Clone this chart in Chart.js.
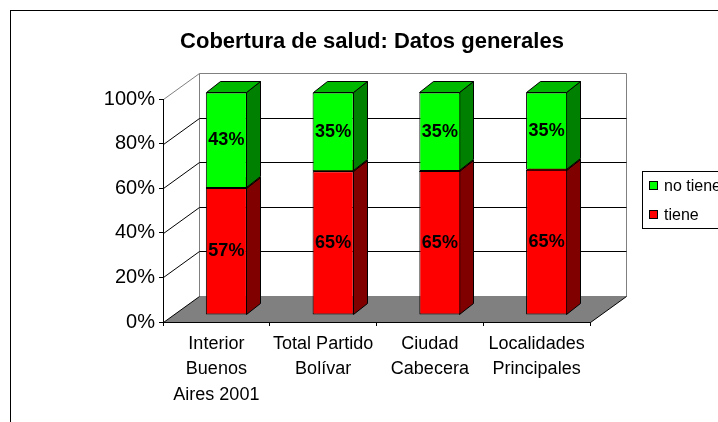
<!DOCTYPE html>
<html>
<head>
<meta charset="utf-8">
<script src="https://cdn.jsdelivr.net/npm/chart.js@4/dist/chart.umd.min.js"></script>
<style>
  html, body { margin: 0; padding: 0; background: #fff; }
  #wrap { width: 718px; height: 422px; }
</style>
</head>
<body>
<div id="wrap"><canvas id="chart" width="718" height="422"></canvas></div>
<script>
// data
const categories = [
  ['Interior', 'Buenos', 'Aires 2001'],
  ['Total Partido', 'Bolívar'],
  ['Ciudad', 'Cabecera'],
  ['Localidades', 'Principales']
];
const tiene = [57.1, 64.6, 64.7, 65.3];
const noTiene = [42.9, 35.4, 35.3, 34.7];
const seriesNames = ['tiene', 'no tiene'];
const yTicks = [0, 20, 40, 60, 80, 100];

const FONT = "'Liberation Sans', Arial, sans-serif";
const colors = {
  tiene: { front: '#FF0000', side: '#800000', top: '#C00000' },
  noTiene: { front: '#00FF00', side: '#008000', top: '#00B800' }
};

// 3d look: depth of the wall box and of the bars
const WALL = { dx: 36, dy: -26 };
const SHIFT = { dx: 10, dy: -7 };
const BAR = { dx: 14, dy: -11 };

function poly(ctx, pts, fill, stroke) {
  ctx.beginPath();
  pts.forEach((p, i) => i ? ctx.lineTo(p[0], p[1]) : ctx.moveTo(p[0], p[1]));
  ctx.closePath();
  if (fill) { ctx.fillStyle = fill; ctx.fill(); }
  if (stroke) { ctx.strokeStyle = stroke; ctx.lineWidth = 1; ctx.stroke(); }
}

function line(ctx, x1, y1, x2, y2, color) {
  ctx.beginPath();
  ctx.moveTo(x1, y1);
  ctx.lineTo(x2, y2);
  ctx.strokeStyle = color;
  ctx.lineWidth = 1;
  ctx.stroke();
}

const threeD = {
  id: 'threeD',
  afterLayout(chart) {
    // the axis box is kept narrow so the title centres like the original;
    // widen it back so the tick labels are not clipped
    chart.scales.y.left = 0;
  },
  beforeDraw(chart) {
    const ctx = chart.ctx;
    const a = chart.chartArea;
    const y = chart.scales.y;
    const L = Math.round(a.left) + 0.5, R = Math.round(a.right) + 0.5;
    const T = Math.round(a.top) + 0.5, B = Math.round(a.bottom) + 0.5;
    const dx = WALL.dx, dy = WALL.dy;
    ctx.save();
    ctx.fillStyle = '#fff';
    ctx.fillRect(0, 0, chart.width, chart.height);
    ctx.strokeStyle = '#000';
    ctx.lineWidth = 1;
    ctx.strokeRect(10.5, 10.5, 800, 800);
    // back wall and left wall
    poly(ctx, [[L + dx, T + dy], [R + dx, T + dy], [R + dx, B + dy], [L + dx, B + dy]], '#fff', '#808080');
    line(ctx, L, T, L + dx, T + dy, '#808080');
    // gridlines
    yTicks.forEach(v => {
      if (v === 0 || v === 100) return;
      const py = Math.round(y.getPixelForValue(v)) + 0.5;
      line(ctx, L + dx, py + dy, R + dx, py + dy, '#000');
      line(ctx, L, py, L + dx, py + dy, '#000');
    });
    // floor
    poly(ctx, [[L, B], [R, B], [R + dx, B + dy], [L + dx, B + dy]], '#808080', null);
    line(ctx, L, B, L + dx, B + dy, '#000');
    line(ctx, R, B, R + dx, B + dy, '#000');
    ctx.restore();
  },
  beforeDatasetsDraw(chart) {
    const ctx = chart.ctx;
    ctx.save();
    // side and top faces, bottom series first
    const faces = [colors.tiene, colors.noTiene];
    chart.data.datasets.forEach((ds, i) => {
      const meta = chart.getDatasetMeta(i);
      meta.data.forEach(el => {
        const p = el.getProps(['x', 'y', 'base', 'width'], true);
        const l = Math.round(p.x - p.width / 2 + SHIFT.dx) + 0.5;
        const r = Math.round(p.x + p.width / 2 + SHIFT.dx) - 0.5;
        const top = Math.round(p.y + SHIFT.dy) + 0.5;
        const bot = Math.round(p.base + SHIFT.dy) - 0.5;
        poly(ctx, [[r, top], [r + BAR.dx, top + BAR.dy], [r + BAR.dx, bot + BAR.dy], [r, bot]], faces[i].side, '#000');
        poly(ctx, [[l, top], [l + BAR.dx, top + BAR.dy], [r + BAR.dx, top + BAR.dy], [r, top]], faces[i].top, '#000');
      });
    });
    ctx.restore();
    // front faces are drawn by chart.js, moved into the box
    ctx.save();
    ctx.translate(SHIFT.dx, SHIFT.dy);
  },
  afterDatasetsDraw(chart) {
    const ctx = chart.ctx;
    ctx.restore();
    ctx.save();
    ctx.font = 'bold 18px ' + FONT;
    ctx.fillStyle = '#000';
    ctx.textAlign = 'center';
    ctx.textBaseline = 'middle';
    chart.data.datasets.forEach((ds, i) => {
      chart.getDatasetMeta(i).data.forEach((el, j) => {
        const p = el.getProps(['x', 'y', 'base'], true);
        ctx.fillText(Math.round(ds.data[j]) + '%', p.x + SHIFT.dx, (p.y + p.base) / 2 + SHIFT.dy);
      });
    });
    // legend box
    ctx.strokeStyle = '#000';
    ctx.lineWidth = 1;
    ctx.fillStyle = '#fff';
    ctx.fillRect(642.5, 171.5, 120, 57);
    ctx.strokeRect(642.5, 171.5, 120, 57);
    ctx.font = '16px ' + FONT;
    ctx.textAlign = 'left';
    const items = chart.data.datasets.slice().reverse();
    items.forEach((ds, k) => {
      const cy = 186 + k * 29;
      ctx.fillStyle = ds.backgroundColor;
      ctx.fillRect(649.5, cy - 4.5, 8, 8);
      ctx.strokeRect(649.5, cy - 4.5, 8, 8);
      ctx.fillStyle = '#000';
      ctx.fillText(ds.label, 664, cy + 1);
    });
    ctx.restore();
  }
};

new Chart(document.getElementById('chart'), {
  type: 'bar',
  data: {
    labels: categories,
    datasets: [
      { label: seriesNames[0], data: tiene, backgroundColor: colors.tiene.front },
      { label: seriesNames[1], data: noTiene, backgroundColor: colors.noTiene.front }
    ]
  },
  options: {
    responsive: false,
    animation: false,
    events: [],
    layout: { padding: { left: 154, right: 128, top: 0, bottom: 0 } },
    datasets: {
      bar: {
        borderColor: '#000',
        borderWidth: 1,
        borderSkipped: false,
        barPercentage: 1,
        categoryPercentage: 0.385,
        clip: false
      }
    },
    plugins: {
      legend: { display: false },
      tooltip: { enabled: false },
      title: {
        display: true,
        text: 'Cobertura de salud: Datos generales',
        color: '#000',
        font: { family: FONT, size: 22, weight: 'bold', lineHeight: 1.2 },
        padding: { top: 29, bottom: 44 }
      }
    },
    scales: {
      x: {
        stacked: true,
        grid: { display: true, drawOnChartArea: false, tickLength: 4, color: '#000', offset: true },
        border: { display: true, color: '#000' },
        ticks: {
          color: '#000',
          maxRotation: 0,
          autoSkip: false,
          padding: 6,
          font: { family: FONT, size: 18, lineHeight: 1.39 }
        },
        afterFit(s) { s.height = 100; }
      },
      y: {
        stacked: true,
        min: 0,
        max: 100,
        grid: { display: true, drawOnChartArea: false, tickLength: 4, color: '#000' },
        border: { display: true, color: '#000' },
        afterBuildTicks(s) { s.ticks = yTicks.map(v => ({ value: v })); },
        ticks: {
          color: '#000',
          padding: 4,
          font: { family: FONT, size: 20 },
          callback: v => v + '%'
        },
        afterFit(s) { s.width = 9; }
      }
    }
  },
  plugins: [threeD]
});
</script>
</body>
</html>
